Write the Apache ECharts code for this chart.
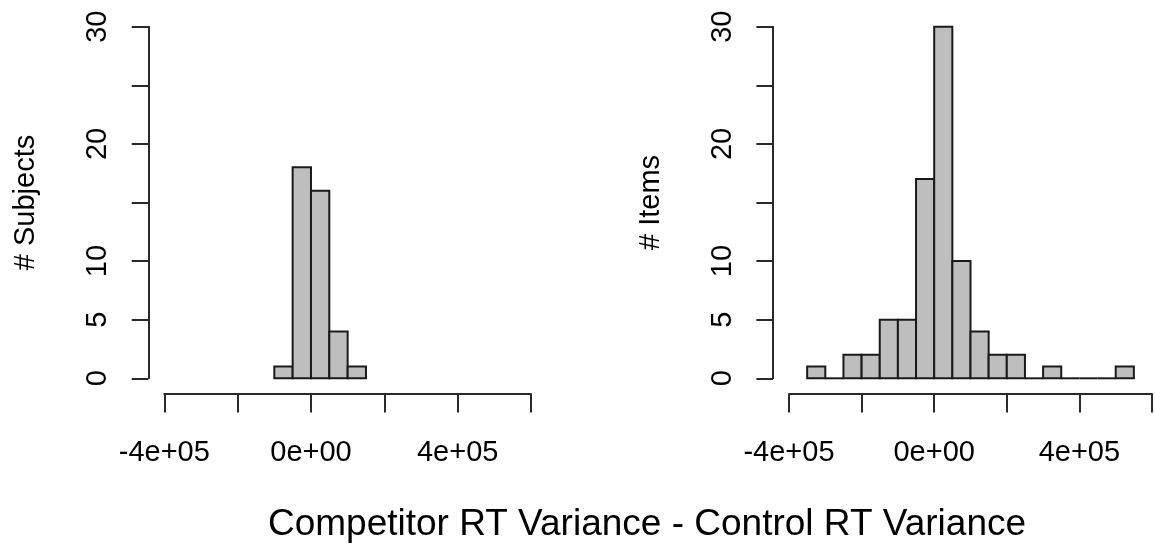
<!DOCTYPE html>
<html>
<head>
<meta charset="utf-8">
<script src="https://cdn.jsdelivr.net/npm/echarts@6/dist/echarts.min.js"></script>
<style>
  html, body { margin: 0; padding: 0; background: #fff; }
  #chart { width: 1155px; height: 550px; }
</style>
</head>
<body>
<div id="chart"></div>
<script>
// ---- data ----
const binWidth = 50000;
const subjectsBinStart = [-100000, -50000, 0, 50000, 100000];
const subjectsCounts = [1, 18, 16, 4, 1];
const itemsBinStart = [-350000, -300000, -250000, -200000, -150000, -100000, -50000, 0, 50000,
  100000, 150000, 200000, 250000, 300000, 350000, 400000, 450000, 500000];
const itemsCounts = [1, 0, 2, 2, 5, 5, 17, 30, 10, 4, 2, 2, 0, 1, 0, 0, 0, 1];
const xTickValues = [-400000, -200000, 0, 200000, 400000, 600000];
const xTickLabels = ['-4e+05', '', '0e+00', '', '4e+05', ''];
const yTickValues = [0, 5, 10, 15, 20, 25, 30];
const yTickLabels = ['0', '5', '10', '', '20', '', '30'];
const yTitles = ['# Subjects', '# Items'];
const xTitle = 'Competitor RT Variance - Control RT Variance';

// ---- build ----
const FONT = 'Liberation Sans, Arial, sans-serif';
const AXIS_COLOR = '#2a2a2a';

function histData(starts, counts) {
  return starts.map((s, i) => [s, s + binWidth, counts[i]]);
}

function renderBar(params, api) {
  const x0 = api.value(0), x1 = api.value(1), c = api.value(2);
  const style = { fill: '#BEBEBE', stroke: '#1a1a1a', lineWidth: 2 };
  if (c === 0) {
    const a = api.coord([x0, 0]), b = api.coord([x1, 0]);
    return { type: 'line', shape: { x1: a[0], y1: a[1], x2: b[0], y2: b[1] },
             style: { stroke: '#1a1a1a', lineWidth: 2 } };
  }
  const p = api.coord([x0, c]), q = api.coord([x1, 0]);
  return { type: 'rect', shape: { x: p[0], y: p[1], width: q[0] - p[0], height: q[1] - p[1] }, style };
}

function xAxisCfg(gridIndex) {
  return {
    type: 'value', gridIndex, min: -400000, max: 600000, interval: 200000,
    offset: 15.7,
    axisLine: { show: true, onZero: false, lineStyle: { color: AXIS_COLOR, width: 2 } },
    axisTick: { show: true, length: 18.5, lineStyle: { color: AXIS_COLOR, width: 2 } },
    splitLine: { show: false },
    axisLabel: {
      margin: 44, fontSize: 29, color: '#000', fontFamily: FONT,
      showMinLabel: true, showMaxLabel: true,
      formatter: v => { const i = xTickValues.indexOf(v); return i >= 0 ? xTickLabels[i] : ''; }
    }
  };
}

function yAxisCfg(gridIndex, name) {
  return {
    type: 'value', gridIndex, min: 0, max: 30, interval: 5,
    offset: 16,
    name, nameLocation: 'middle', nameRotate: 90, nameGap: 108,
    nameTextStyle: { fontSize: 29, color: '#000', fontFamily: FONT },
    axisLine: { show: true, onZero: false, lineStyle: { color: AXIS_COLOR, width: 2 } },
    axisTick: { show: true, length: 16.6, lineStyle: { color: AXIS_COLOR, width: 2 } },
    splitLine: { show: false },
    axisLabel: {
      rotate: 90, margin: 36, fontSize: 29, color: '#000', fontFamily: FONT,
      showMinLabel: true, showMaxLabel: true,
      formatter: v => { const i = yTickValues.indexOf(v); return i >= 0 ? yTickLabels[i] : ''; }
    }
  };
}

const chart = echarts.init(document.getElementById('chart'), null, { renderer: 'canvas' });
chart.setOption({
  animation: false,
  backgroundColor: '#fff',
  grid: [
    { left: 164.3, top: 26.7, width: 366.7, height: 351.6 },
    { left: 789, top: 26.7, width: 366.7, height: 351.6 }
  ],
  xAxis: [xAxisCfg(0), xAxisCfg(1)],
  yAxis: [yAxisCfg(0, yTitles[0]), yAxisCfg(1, yTitles[1])],
  graphic: [{
    type: 'text', x: 647, y: 525,
    style: { text: xTitle, font: '37px ' + FONT, fill: '#000', textAlign: 'center', textVerticalAlign: 'middle' }
  }],
  series: [
    { type: 'custom', xAxisIndex: 0, yAxisIndex: 0, clip: false,
      encode: { x: [0, 1], y: 2 }, renderItem: renderBar, data: histData(subjectsBinStart, subjectsCounts) },
    { type: 'custom', xAxisIndex: 1, yAxisIndex: 1, clip: false,
      encode: { x: [0, 1], y: 2 }, renderItem: renderBar, data: histData(itemsBinStart, itemsCounts) }
  ]
});
</script>
</body>
</html>
